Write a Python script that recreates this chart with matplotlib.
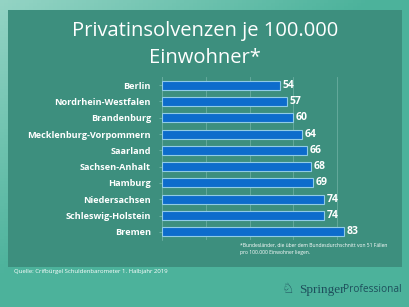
import numpy as np
import matplotlib
matplotlib.use("Agg")
import matplotlib.pyplot as plt
from matplotlib.patches import Rectangle

states = ["Berlin", "Nordrhein-Westfalen", "Brandenburg", "Mecklenburg-Vorpommern",
          "Saarland", "Sachsen-Anhalt", "Hamburg", "Niedersachsen",
          "Schleswig-Holstein", "Bremen"]
values = [54, 57, 60, 64, 66, 68, 69, 74, 74, 83]

title_lines = ["Privatinsolvenzen je 100.000", "Einwohner*"]
footnote = "*Bundesländer, die über dem Bundesdurchschnitt von 51 Fällen\npro 100.000 Einwohner liegen."
source = "Quelle: Crifbürgel Schuldenbarometer 1. Halbjahr 2019"

plt.rcParams["font.family"] = ["Open Sans", "DejaVu Sans"]

fig = plt.figure(figsize=(4.1, 3.07), dpi=100)

# outer background gradient, lighter in the top-left corner
bg = fig.add_axes([0, 0, 1, 1], zorder=-10)
yy, xx = np.mgrid[0:1:100j, 0:1:100j]
t = np.clip((xx + yy) / 0.9, 0, 1)
c0 = np.array([0.58, 0.83, 0.77])
c1 = np.array([0.30, 0.70, 0.61])
img = c0 * (1 - t[..., None]) + c1 * t[..., None]
bg.imshow(img, extent=[0, 1, 0, 1], aspect="auto", origin="upper")
# inner panel
bg.add_patch(Rectangle((8 / 410, 1 - 267 / 307), 394 / 410, 257 / 307,
                       facecolor="#3d8f7e", edgecolor="none"))
bg.set_xlim(0, 1)
bg.set_ylim(0, 1)
bg.axis("off")

ax = fig.add_axes([162 / 410, 1 - 240 / 307, 219 / 410, 163 / 307])
ax.set_facecolor("none")
y = np.arange(len(states))
ax.barh(y, values, height=0.55, color="#0d6ccc", edgecolor="#8fcbe6", linewidth=0.8, zorder=3)
ax.set_xlim(0, 100)
ax.set_ylim(len(states) - 0.5, -0.5)
ax.set_xticks(np.arange(0, 101, 20))
ax.xaxis.grid(True, color="#6aaea0", linewidth=0.6, zorder=0)
ax.tick_params(axis="x", length=0, labelbottom=False)
ax.set_yticks(y)
ax.set_yticklabels(states, color="white", fontsize=6.6, fontweight="bold")
ax.tick_params(axis="y", length=2, color="#6aaea0", pad=6)
for s in ["top", "right", "bottom"]:
    ax.spines[s].set_visible(False)
ax.spines["left"].set_color("#6aaea0")
ax.spines["left"].set_linewidth(0.6)

for yi, v in zip(y, values):
    ax.text(v + 1.2, yi, str(v), color="white", fontsize=7.5, fontweight="bold",
            va="center", ha="left", zorder=4)

fig.text(0.5, 1 - 31 / 307, title_lines[0], color="white", fontsize=14.5,
         ha="center", va="center")
fig.text(0.5, 1 - 58 / 307, title_lines[1], color="white", fontsize=14.5,
         ha="center", va="center")
fig.text(240 / 410, 1 - 249 / 307, footnote, color="white", fontsize=3.6,
         ha="left", va="center", linespacing=1.5)
fig.text(14 / 410, 1 - 271 / 307, source, color="white", fontsize=4.3,
         ha="left", va="center")

# logo
fig.text(345 / 410, 1 - 290 / 307, "Springer", color="#1e4f5c", fontsize=9.5,
         family="Liberation Serif", ha="right", va="center")
fig.text(402 / 410, 1 - 290 / 307, "Professional", color="#1e4f5c", fontsize=7.3,
         ha="right", va="center")
fig.text(288 / 410, 1 - 289 / 307, "♘", color="#1e4f5c", fontsize=10,
         family="DejaVu Sans", ha="center", va="center")

fig.savefig("out.png", dpi=100)
